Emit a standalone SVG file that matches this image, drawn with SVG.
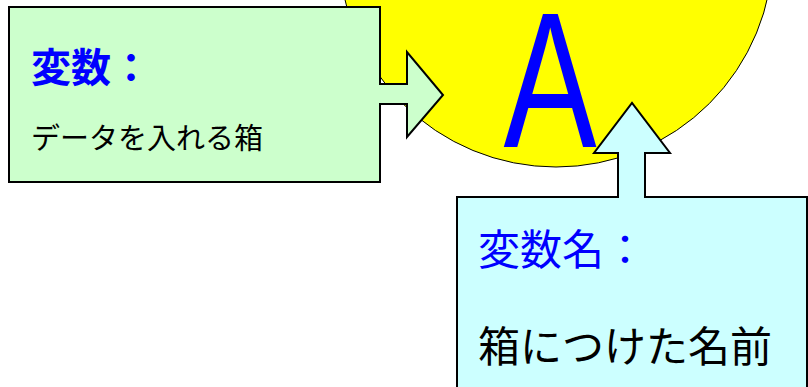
<svg xmlns="http://www.w3.org/2000/svg" width="808" height="387" viewBox="0 0 808 387">
<style>
.shape{stroke:#000;stroke-width:2;stroke-linejoin:miter}
.jp{font-family:"Noto Sans CJK JP","Noto Sans",sans-serif}
.blue{fill:#0000FF}
.black{fill:#000}
</style>
<rect width="808" height="387" fill="#fff"/>
<g id="circle-A">
<circle cx="556" cy="-50" r="217" fill="#FFFF00" stroke="#000" stroke-width="1"/>
<text transform="translate(550,147) scale(0.72,1)" text-anchor="middle" font-family="Liberation Sans, Arial, sans-serif" font-size="194" class="blue">A</text>
</g>
<g id="variable">
<path class="shape" fill="#CCFFCC" d="M9,7 H380 V84 H407 V52 L443,95 L407,137 V104 H380 V182 H9 Z"/>
<text x="31" y="82" class="jp blue" font-size="40" font-weight="bold">変数：</text>
<text x="31" y="149" class="jp black" font-size="29">データを入れる箱</text>
</g>
<g id="variable-name">
<path class="shape" fill="#CCFFFF" d="M457,400 V197 H618 V153 H594 L632,103 L670,153 H645 V197 H807 V400 Z"/>
<text x="478" y="265" class="jp blue" font-size="42">変数名：</text>
<text x="478" y="362" class="jp black" font-size="42">箱につけた名前</text>
</g>
<g id="connectors"></g>
</svg>
